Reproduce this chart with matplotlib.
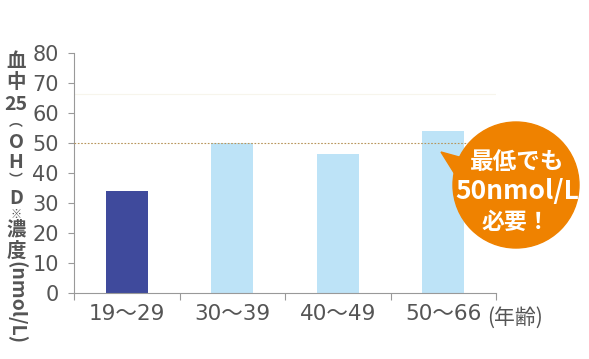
import numpy as np
import matplotlib
matplotlib.use("Agg")
import matplotlib.pyplot as plt
from matplotlib.patches import Circle, Polygon

plt.rcParams['font.family'] = ['Noto Sans CJK JP', 'DejaVu Sans']

# データ
groups = ['19〜29', '30〜39', '40〜49', '50〜66']
values = [34, 50, 46.5, 54]
colors = ['#3f4a9c', '#bde3f7', '#bde3f7', '#bde3f7']
yticks = [0, 10, 20, 30, 40, 50, 60, 70, 80]
guide = 50

W, H = 589, 359
num_font = ['DejaVu Sans', 'Noto Sans CJK JP']
grey = '#555555'

fig = plt.figure(figsize=(W / 100, H / 100), dpi=100)
ax = fig.add_axes([74 / W, 1 - 293 / H, 422 / W, 240 / H])

x = np.arange(len(groups))
ax.bar(x, values, width=0.4, color=colors, zorder=2)
ax.axhline(guide, xmin=0, xmax=1.01, color='#b8955a', lw=0.8, ls=(0, (1.5, 1.5)), zorder=3, clip_on=False)
ax.axhline(66.5, color='#f7f5ec', lw=0.8, zorder=1)

ax.set_xlim(-0.5, len(groups) - 0.5)
ax.set_ylim(0, 80)
ax.set_yticks(yticks)
ax.set_yticklabels([str(v) for v in yticks], fontsize=15, color=grey, fontfamily=num_font)
ax.set_xticks(np.arange(len(groups) + 1) - 0.5)
ax.set_xticklabels([])
ax.set_xticks(x, minor=True)
ax.set_xticklabels(groups, minor=True, fontsize=15.5, color=grey, fontfamily=num_font)
ax.tick_params(axis='x', which='minor', length=0, pad=8)
ax.tick_params(axis='x', which='major', length=5, color='#999999')
ax.tick_params(axis='y', length=4, color='#999999', pad=7)
for s in ['top', 'right']:
    ax.spines[s].set_visible(False)
for s in ['left', 'bottom']:
    ax.spines[s].set_color('#999999')

fig.text(487 / W, 1 - 318 / H, '(年齢)', fontsize=15, color=grey, va='center', ha='left')

# 縦書きの軸ラベル
parts = [('血', 61), ('中', 83), ('25', 104), ('︵', 122), ('O', 142), ('H', 162),
         ('︶', 180), ('D', 199), ('※', 214), ('濃', 230), ('度', 251)]
for t, yy in parts:
    fs = 14
    if t == '※':
        fs = 8
    elif t in ('︵', '︶'):
        fs = 10
    fig.text(16 / W, 1 - yy / H, t, fontsize=fs, color=grey, ha='center', va='center',
             fontweight='bold')
fig.text(16 / W, 1 - 303 / H, '(nmol/L)', fontsize=14, color=grey, ha='center', va='center',
         rotation=-90, fontweight='bold')

# 吹き出し
ov = fig.add_axes([0, 0, 1, 1])
ov.set_xlim(0, W)
ov.set_ylim(H, 0)
ov.axis('off')
ov.patch.set_alpha(0)
orange = '#ef8200'
ov.add_patch(Circle((516, 185), 63, color=orange, zorder=5))
ov.add_patch(Polygon([(441, 152), (470, 160), (466, 192)], closed=True, color=orange, zorder=5))
ov.text(517, 162, '最低でも', fontsize=17, fontweight='bold', color='white', ha='center', va='center', zorder=6)
ov.text(517, 192, '50nmol/L', fontsize=19, fontweight='bold', color='white', ha='center', va='center', zorder=6)
ov.text(516, 222, '必要！', fontsize=16.5, fontweight='bold', color='white', ha='center', va='center', zorder=6)

fig.savefig('out.png', dpi=100)
